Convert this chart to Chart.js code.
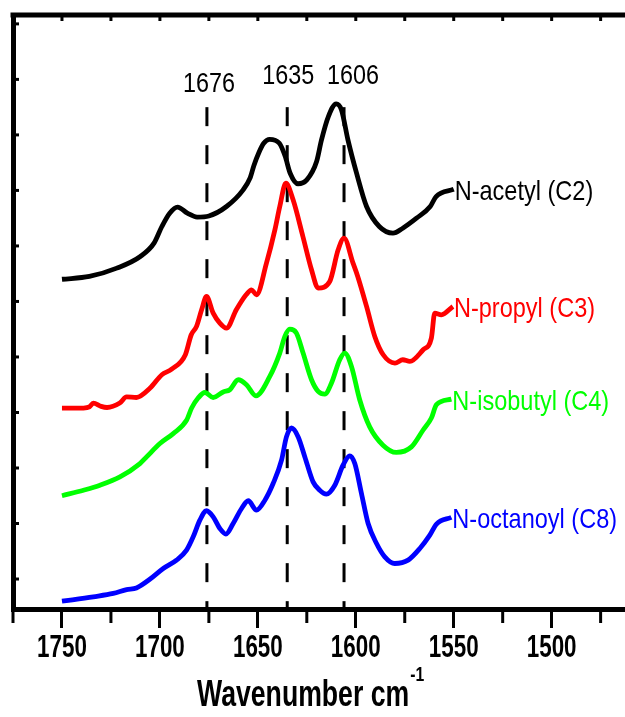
<!DOCTYPE html>
<html lang="en">
<head>
  <meta charset="UTF-8">
  <title>FTIR amide I region</title>
  <style>
    body {
      margin: 0;
      background: #fff;
      overflow: hidden;
    }
    .wrap {
      position: relative;
      width: 640px;
      height: 717px;
    }
  </style>
</head>
<body>
  <div class="wrap">
    <canvas id="ftir"></canvas>
  </div>

  <script src="https://cdn.jsdelivr.net/npm/chart.js"></script>
  <script>
    // wavenumber (cm-1) / stacked absorbance (arbitrary offset units)
    const acetylWn = [1750, 1736, 1722, 1710, 1703, 1699, 1695, 1691, 1686, 1681, 1675, 1666, 1657.5, 1654, 1652, 1649.5, 1647, 1644, 1639, 1636, 1633.5, 1629.5, 1625, 1620, 1617.5, 1614, 1610, 1607.3, 1604, 1599.6, 1594.5, 1588, 1581, 1576, 1569, 1562, 1559, 1550];
    const acetylAbs = [5.40, 5.45, 5.60, 5.81, 6.05, 6.35, 6.59, 6.70, 6.59, 6.52, 6.54, 6.71, 7.01, 7.22, 7.45, 7.68, 7.85, 7.92, 7.85, 7.61, 7.31, 7.12, 7.19, 7.52, 7.91, 8.33, 8.56, 8.45, 7.91, 7.31, 6.71, 6.35, 6.23, 6.32, 6.50, 6.71, 6.89, 7.02];

    const propylWn = [1750, 1739, 1736, 1734, 1730, 1727, 1720.5, 1717, 1712, 1705, 1699, 1694, 1687, 1684, 1681.3, 1678.7, 1676.2, 1672.8, 1669.4, 1666, 1661, 1656, 1653.2, 1650.7, 1645.6, 1641.3, 1638.8, 1635.7, 1632, 1627, 1622.6, 1619.2, 1613.3, 1609, 1606, 1601.4, 1599, 1594.5, 1590.3, 1586, 1580, 1576, 1572.4, 1565.6, 1561.4, 1559.7, 1556.3, 1550.4];
    const propylAbs = [3.08, 3.08, 3.10, 3.17, 3.11, 3.09, 3.17, 3.28, 3.27, 3.44, 3.68, 3.78, 4.04, 4.40, 4.55, 4.85, 5.09, 4.79, 4.61, 4.52, 4.85, 5.12, 5.21, 5.12, 5.69, 6.29, 6.71, 7.13, 6.83, 6.17, 5.57, 5.24, 5.36, 5.93, 6.14, 5.69, 5.45, 4.91, 4.37, 4.04, 3.89, 3.95, 3.92, 4.13, 4.34, 4.79, 4.76, 4.91];

    const isobutylWn = [1750, 1739, 1730.6, 1720.4, 1710.2, 1706.8, 1700, 1693.2, 1686.4, 1683.8, 1680.5, 1677, 1672.8, 1667.7, 1664.3, 1660, 1655.8, 1651, 1643.9, 1638.8, 1636.2, 1633.7, 1630.3, 1626.9, 1622.6, 1619.2, 1615.8, 1612.4, 1608.2, 1605.6, 1602.2, 1598, 1592.9, 1586.1, 1579.3, 1571.6, 1565.7, 1561.4, 1558.8, 1551.2];
    const isobutylAbs = [1.50, 1.60, 1.69, 1.84, 2.08, 2.20, 2.44, 2.62, 2.86, 3.08, 3.26, 3.36, 3.27, 3.37, 3.41, 3.59, 3.50, 3.30, 3.65, 4.07, 4.37, 4.50, 4.43, 4.07, 3.59, 3.38, 3.33, 3.53, 3.95, 4.07, 3.83, 3.23, 2.74, 2.41, 2.28, 2.38, 2.68, 2.90, 3.14, 3.24];

    const octanoylWn = [1750, 1734, 1723.8, 1717, 1712, 1705, 1698.3, 1691.5, 1686.4, 1683, 1679.6, 1676.2, 1672.8, 1669.4, 1666.3, 1662.6, 1658.3, 1654.9, 1650.7, 1646.4, 1642.2, 1637.9, 1635.4, 1632.8, 1629.4, 1626, 1621.8, 1618.4, 1615, 1610.7, 1606.5, 1603.1, 1600.5, 1597.1, 1593.7, 1589.4, 1585.2, 1580.1, 1573.3, 1567.3, 1562.2, 1558.8, 1551.2];
    const octanoylAbs = [-0.40, -0.32, -0.26, -0.19, -0.16, 0.00, 0.19, 0.34, 0.52, 0.76, 1.06, 1.23, 1.12, 0.91, 0.81, 1.00, 1.27, 1.41, 1.24, 1.42, 1.72, 2.14, 2.56, 2.72, 2.56, 2.20, 1.75, 1.60, 1.53, 1.69, 2.05, 2.22, 2.08, 1.54, 1.00, 0.64, 0.40, 0.28, 0.34, 0.55, 0.79, 0.99, 1.11];

    const seriesNames = ['N-acetyl (C2)', 'N-propyl (C3)', 'N-isobutyl (C4)', 'N-octanoyl (C8)'];
    const seriesColors = ['#000000', '#ff0000', '#00ff00', '#0000ff'];

    const peakPositions = [1676, 1635, 1606];
    const peakLineTop = 8.5;

    const xTickValues = [1750, 1700, 1650, 1600, 1550, 1500];

    const Y_MIN = -0.54, Y_MAX = 10.16;
    const X_MIN = 1460, X_MAX = 1775;

    const FONT = "'Liberation Sans', Arial, sans-serif";

    function pts(wn, abs) {
      return wn.map((w, i) => ({ x: w, y: abs[i] }));
    }

    const curves = [
      pts(acetylWn, acetylAbs),
      pts(propylWn, propylAbs),
      pts(isobutylWn, isobutylAbs),
      pts(octanoylWn, octanoylAbs)
    ];

    const datasets = curves.map((data, i) => ({
      label: seriesNames[i],
      data: data,
      borderColor: seriesColors[i],
      borderWidth: 4.8,
      pointRadius: 0,
      cubicInterpolationMode: 'monotone',
      fill: false
    }));

    // dashed markers at the band positions
    peakPositions.forEach(p => {
      datasets.push({
        label: 'peak ' + p,
        data: [{ x: p, y: peakLineTop }, { x: p, y: Y_MIN }],
        borderColor: '#000',
        borderWidth: 3,
        borderDash: [19, 19],
        pointRadius: 0,
        fill: false
      });
    });

    // the original figure uses a squeezed Arial, so text is drawn narrowed
    function squeezed(ctx, text, x, y, align, sx) {
      ctx.save();
      ctx.translate(x, y);
      ctx.scale(sx, 1);
      ctx.textAlign = align;
      ctx.fillText(text, 0, 0);
      ctx.restore();
      return ctx.measureText(text).width * sx;
    }

    const decor = {
      id: 'decor',
      afterDraw(chart) {
        const { ctx, chartArea: a, scales: { x, y } } = chart;
        ctx.save();
        ctx.strokeStyle = '#000';
        ctx.fillStyle = '#000';

        // top frame line
        ctx.lineWidth = 5;
        ctx.beginPath();
        ctx.moveTo(a.left - 2.5, a.top);
        ctx.lineTo(a.right + 20, a.top);
        ctx.stroke();

        ctx.lineWidth = 3;
        for (let v = 1475; v <= 1775; v += 25) {
          const px = x.getPixelForValue(v);
          ctx.beginPath();
          ctx.moveTo(px, a.top);
          ctx.lineTo(px, a.top + 6);
          ctx.stroke();
          if (v % 50 !== 0) {
            ctx.beginPath();
            ctx.moveTo(px, a.bottom);
            ctx.lineTo(px, a.bottom + 14);
            ctx.stroke();
          }
        }
        for (let v = 0; v <= 10; v++) {
          const py = y.getPixelForValue(v);
          ctx.beginPath();
          ctx.moveTo(a.left, py);
          ctx.lineTo(a.left + 6, py);
          ctx.stroke();
        }

        // x tick labels
        ctx.font = "bold 32px " + FONT;
        ctx.textBaseline = 'middle';
        xTickValues.forEach(v => {
          squeezed(ctx, String(v), x.getPixelForValue(v), 648, 'center', 0.70);
        });

        // band labels
        ctx.font = "28px " + FONT;
        ctx.textBaseline = 'alphabetic';
        const peakOffsets = [2, 1, 9];
        const peakBase = [92, 84, 84];
        peakPositions.forEach((p, i) => {
          squeezed(ctx, String(p), x.getPixelForValue(p) + peakOffsets[i], peakBase[i], 'center', 0.835);
        });

        // series labels at curve ends
        ctx.textBaseline = 'middle';
        curves.forEach((data, i) => {
          const last = data[data.length - 1];
          ctx.fillStyle = seriesColors[i];
          squeezed(ctx, seriesNames[i], x.getPixelForValue(last.x) + 1, y.getPixelForValue(last.y) + 3, 'left', 0.84);
        });

        // axis title with superscript
        ctx.fillStyle = '#000';
        ctx.textBaseline = 'alphabetic';
        ctx.font = "bold 36px " + FONT;
        const w = squeezed(ctx, 'Wavenumber cm', 197, 706, 'left', 0.74);
        ctx.font = "bold 21px " + FONT;
        squeezed(ctx, '-1', 197 + w + 1, 681, 'left', 0.75);

        ctx.restore();
      }
    };

    const chart = new Chart(document.getElementById('ftir'), {
      type: 'line',
      data: { datasets: datasets },
      options: {
        responsive: true,
        maintainAspectRatio: false,
        animation: false,
        layout: { padding: { left: 13, top: 15, right: 10, bottom: 89 } },
        plugins: {
          legend: { display: false },
          tooltip: { enabled: false }
        },
        scales: {
          x: {
            type: 'linear',
            position: 'bottom',
            reverse: true,
            min: X_MIN,
            max: X_MAX,
            afterBuildTicks: (scale) => {
              scale.ticks = xTickValues.map(v => ({ value: v }));
            },
            ticks: { display: false },
            grid: {
              drawOnChartArea: false,
              drawTicks: true,
              tickLength: 19,
              tickWidth: 3,
              tickColor: '#000'
            },
            border: { display: true, width: 5, color: '#000' }
          },
          y: {
            type: 'linear',
            position: 'left',
            min: Y_MIN,
            max: Y_MAX,
            ticks: { display: false },
            grid: { drawOnChartArea: false, drawTicks: false },
            border: { display: true, width: 5, color: '#000' }
          }
        }
      },
      plugins: [decor]
    });
  </script>
</body>
</html>
